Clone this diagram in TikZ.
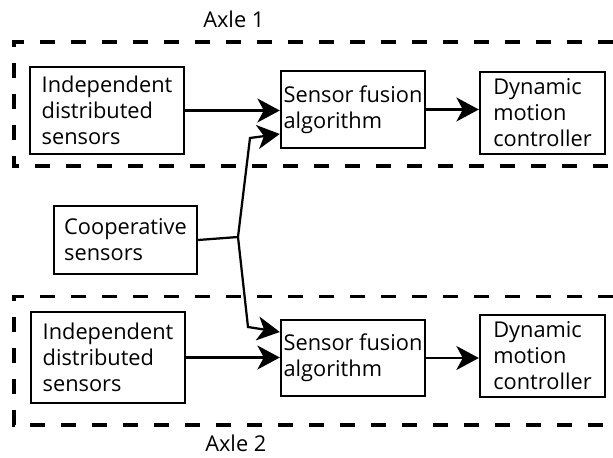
\documentclass[tikz,border=0pt]{standalone}
\usepackage{fontspec}
\setmainfont{Open Sans}
\usepackage{tikz}
\usetikzlibrary{arrows.meta, positioning, calc}

\begin{document}
\begin{tikzpicture}[
  block/.style={draw, line width=1.7pt, align=left, inner sep=0pt, font=\fontsize{15.5}{18.5}\selectfont},
  axle/.style={line width=2.2pt, dash pattern=on 0.375cm off 0.4cm},
  arr/.style={line width=1.6pt, -{Stealth[length=0.56cm, width=0.6cm, inset=0.16cm]}},
  lbl/.style={anchor=base west, inner sep=0pt, font=\fontsize{15.5}{18.5}\selectfont}
]
  \useasboundingbox (0,0) rectangle (15.325,11.425);

  % Axle frames (open on the right)
  \draw[axle] (15.325,10.375) -- (0.35,10.375) -- (0.35,7.275) -- (15.325,7.275);
  \draw[axle] (15.325,4.0125) -- (0.35,4.0125) -- (0.35,0.8) -- (15.325,0.8);
  \node[lbl] (axle1) at (5.075,10.725) {Axle 1};
  \node[lbl] (axle2) at (5.125,0.13) {Axle 2};

  % Axle 1 chain
  \node[block, minimum width=3.85cm, minimum height=2.175cm] (ind1) at (2.675,8.6625) {Independent\\distributed\\sensors};
  \node[block, minimum width=3.6cm, minimum height=1.925cm] (fus1) at (8.825,8.6875) {Sensor fusion\\algorithm};
  \node[block, minimum width=3.125cm, minimum height=2.05cm] (dyn1) at (13.5625,8.6) {Dynamic\\motion\\controller};
  \draw[arr] (ind1.east) -- (ind1.east -| fus1.west);
  \draw[arr] (fus1.east) -- (fus1.east -| dyn1.west);

  % Axle 2 chain
  \node[block, minimum width=3.85cm, minimum height=2.275cm] (ind2) at (2.7,2.4875) {Independent\\distributed\\sensors};
  \node[block, minimum width=3.6cm, minimum height=1.9cm] (fus2) at (8.825,2.475) {Sensor fusion\\algorithm};
  \node[block, minimum width=3.125cm, minimum height=2.05cm] (dyn2) at (13.5625,2.525) {Dynamic\\motion\\controller};
  \draw[arr] (ind2.east) -- (ind2.east -| fus2.west);
  \draw[arr] (fus2.east) -- (fus2.east -| dyn2.west);

  % Cooperative sensors feed both fusion blocks
  \node[block, minimum width=3.575cm, minimum height=1.7cm] (coop) at (3.1375,5.425) {Cooperative\\sensors};
  \coordinate (jn) at (5.95,5.5);
  \coordinate (kup) at (6.25,7.975);
  \coordinate (kdn) at (6.2,3.25);
  \draw[line width=1.6pt] (coop.east) -- (jn);
  \draw[arr] (jn) -- (kup) -- ([yshift=-0.6125cm]fus1.west);
  \draw[arr] (jn) -- (kdn) -- ([yshift=0.65cm]fus2.west);
\end{tikzpicture}
\end{document}
